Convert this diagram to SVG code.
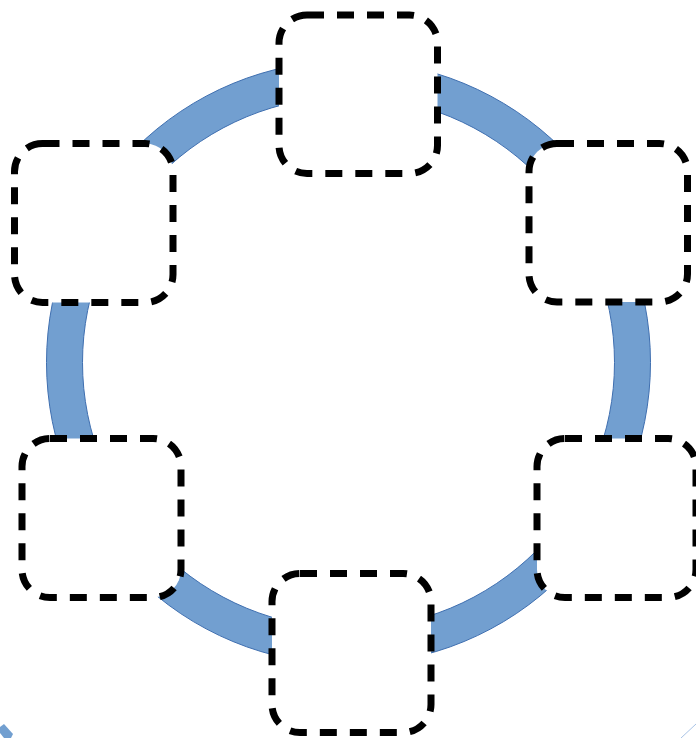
<svg xmlns="http://www.w3.org/2000/svg" width="696" height="738" viewBox="0 0 696 738">
  <style>
    .ring { fill: #729fd0; stroke: #3f6fb0; stroke-width: 1; fill-rule: evenodd; }
    .box { fill: #ffffff; stroke: #000000; stroke-width: 7; stroke-dasharray: 17 13; }
  </style>
  <rect x="0" y="0" width="696" height="738" fill="#ffffff"/>
  <g id="connectors">
    <path class="ring" d="M 348.5 60.5 A 302 302 0 1 1 348.5 664.5 A 302 302 0 1 1 348.5 60.5 Z M 348.5 96.5 A 266 266 0 1 0 348.5 628.5 A 266 266 0 1 0 348.5 96.5 Z"/>
    <polygon points="0,727 4,724 13,734 11,738 4,738 0,733" fill="#729fd0"/>
    <line x1="696" y1="724" x2="681" y2="738" stroke="#a9c4e6" stroke-width="1"/>
  </g>
  <g id="node-top">
    <rect class="box" x="279" y="15" width="158.5" height="158.5" rx="28" ry="28"/>
  </g>
  <g id="node-upper-left">
    <rect class="box" x="14.5" y="143.5" width="158.5" height="159" rx="28" ry="28"/>
  </g>
  <g id="node-upper-right">
    <rect class="box" x="529" y="143.5" width="158.5" height="158.5" rx="28" ry="28"/>
  </g>
  <g id="node-lower-left">
    <rect class="box" x="22" y="438.5" width="159" height="159" rx="28" ry="28"/>
  </g>
  <g id="node-lower-right">
    <rect class="box" x="537" y="438.5" width="159" height="159" rx="28" ry="28"/>
  </g>
  <g id="node-bottom">
    <rect class="box" x="272" y="573.5" width="159" height="159" rx="28" ry="28"/>
  </g>
</svg>
